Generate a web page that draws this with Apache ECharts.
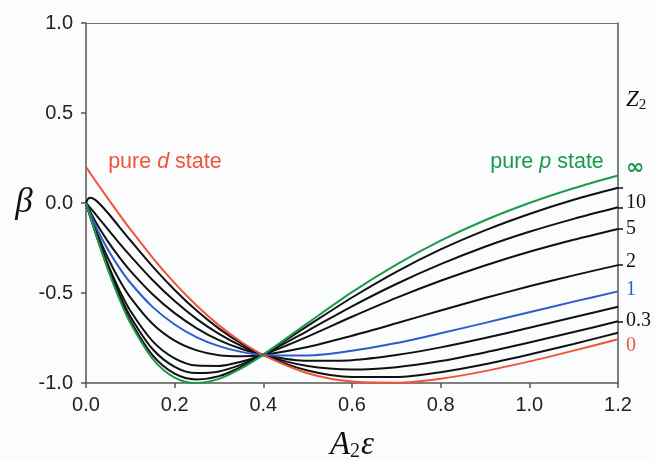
<!DOCTYPE html>
<html><head><meta charset="utf-8">
<script src="https://cdn.jsdelivr.net/npm/echarts@6/dist/echarts.min.js"></script>
<style>html,body{margin:0;padding:0;background:#fbfcfd}#c{width:655px;height:462px}</style>
</head><body><div id="c"></div>
<script>
// x values (A2 epsilon)
const xs = [0, 0.005, 0.01, 0.02, 0.03, 0.05, 0.075, 0.1, 0.15, 0.2, 0.25, 0.3, 0.35, 0.4, 0.5, 0.6, 0.7, 0.8, 0.9, 1.0, 1.1, 1.2];
// beta values
const pState = [0, -0.040, -0.079, -0.156, -0.231, -0.373, -0.531, -0.667, -0.864, -0.970, -1.000, -0.977, -0.919, -0.842, -0.667, -0.495, -0.342, -0.209, -0.096, 0.000, 0.082, 0.153];
const dState = [0.200, 0.182, 0.164, 0.128, 0.093, 0.023, -0.063, -0.146, -0.303, -0.445, -0.571, -0.680, -0.771, -0.845, -0.946, -0.992, -0.998, -0.976, -0.934, -0.880, -0.820, -0.757];
const z30 = [0, -0.040, -0.079, -0.155, -0.229, -0.367, -0.522, -0.654, -0.845, -0.948, -0.980, -0.962, -0.911, -0.842, -0.683, -0.525, -0.382, -0.258, -0.152, -0.061, 0.018, 0.085];
const z10 = [0, -0.039, -0.077, -0.152, -0.224, -0.358, -0.506, -0.630, -0.811, -0.910, -0.945, -0.936, -0.898, -0.843, -0.710, -0.574, -0.450, -0.340, -0.243, -0.160, -0.088, -0.024];
const z5 = [0, -0.038, -0.075, -0.148, -0.216, -0.344, -0.483, -0.599, -0.767, -0.863, -0.903, -0.905, -0.882, -0.843, -0.742, -0.632, -0.527, -0.432, -0.347, -0.271, -0.204, -0.144];
const z2 = [0, -0.036, -0.070, -0.135, -0.197, -0.308, -0.426, -0.524, -0.671, -0.765, -0.819, -0.846, -0.852, -0.844, -0.800, -0.737, -0.668, -0.597, -0.528, -0.463, -0.402, -0.345];
const z1 = [0, -0.031, -0.061, -0.117, -0.169, -0.261, -0.359, -0.443, -0.577, -0.675, -0.746, -0.795, -0.827, -0.844, -0.847, -0.821, -0.778, -0.724, -0.666, -0.607, -0.548, -0.491];
const z06 = [0, -0.026, -0.050, -0.097, -0.139, -0.216, -0.301, -0.377, -0.507, -0.612, -0.696, -0.762, -0.810, -0.844, -0.877, -0.873, -0.845, -0.802, -0.750, -0.693, -0.635, -0.576];
const z03 = [0, -0.014, -0.028, -0.058, -0.088, -0.148, -0.223, -0.294, -0.428, -0.545, -0.645, -0.727, -0.794, -0.845, -0.906, -0.925, -0.912, -0.878, -0.830, -0.775, -0.717, -0.657];
const z01 = [0, 0.024, 0.029, 0.019, -0.003, -0.057, -0.132, -0.207, -0.352, -0.483, -0.599, -0.698, -0.780, -0.845, -0.931, -0.967, -0.967, -0.940, -0.896, -0.842, -0.783, -0.721];
// tick labels
const xTicks = ['0.0', '0.2', '0.4', '0.6', '0.8', '1.0', '1.2'];
const zLabels = ['Z2', '∞', '10', '5', '2', '1', '0.3', '0'];
const zLabelAt = [0.572, 0.193, 0.004, -0.141, -0.326, -0.483, -0.654, -0.794];
const zTickAt = [0.085, -0.024, -0.144, -0.345, -0.657];

const RED = '#f0553a', GREEN = '#1b9a4c', BLUE = '#2f5cc8', BLACK = '#111111';
const zColors = ['#111', GREEN, '#111', '#111', '#111', BLUE, '#111', RED];

const chart = echarts.init(document.getElementById('c'), null, {renderer: 'canvas'});
const mk = arr => xs.map((x, i) => [x, arr[i]]);
const line = (name, arr, color, z) => ({
  name, type: 'line', data: mk(arr), showSymbol: false, symbol: 'none', smooth: 0.3,
  lineStyle: {color, width: 2}, z, silent: true, animation: false, clip: false
});
const nearest = v => { let b = 0; zLabelAt.forEach((p, i) => { if (Math.abs(p - v) < Math.abs(zLabelAt[b] - v)) b = i; }); return b; };

chart.setOption({
  backgroundColor: '#fbfcfd',
  animation: false,
  grid: {left: 86, top: 23, right: 37, bottom: 79, containLabel: false, outerBoundsMode: 'none'},
  xAxis: [{
    type: 'value', min: 0, max: 1.2, interval: 0.2, position: 'bottom',
    axisLine: {show: true, onZero: false, lineStyle: {color: '#555', width: 1.5}},
    axisTick: {show: true, inside: false, length: 5, lineStyle: {color: '#555', width: 1.5}},
    axisLabel: {formatter: (v) => xTicks[Math.round(v / 0.2)], fontSize: 20, color: '#222', fontFamily: 'Liberation Sans', margin: 12},
    splitLine: {show: false},
    name: '{a|A}{s|2}{a|ε}', nameLocation: 'middle', nameGap: 44,
    nameTextStyle: {rich: {
      a: {fontFamily: 'Liberation Serif', fontStyle: 'italic', fontSize: 33, color: '#111', lineHeight: 36},
      s: {fontFamily: 'Liberation Serif', fontSize: 20, color: '#111', lineHeight: 36, padding: [14, 1, 0, 0]}
    }}
  }, {
    type: 'value', min: 0, max: 1.2, position: 'top',
    axisLine: {show: true, onZero: false, lineStyle: {color: '#7a6f6f', width: 1}},
    axisTick: {show: false}, axisLabel: {show: false}, splitLine: {show: false}
  }],
  yAxis: [{
    type: 'value', min: -1, max: 1, interval: 0.5, position: 'left',
    axisLine: {show: true, onZero: false, lineStyle: {color: '#555', width: 1.5}},
    axisTick: {show: true, inside: false, length: 5, lineStyle: {color: '#555', width: 1.5}},
    axisLabel: {formatter: v => v.toFixed(1), fontSize: 20, color: '#222', fontFamily: 'Liberation Sans', margin: 13},
    splitLine: {show: false},
    name: 'β', nameLocation: 'middle', nameRotate: 0, nameGap: 52,
    nameTextStyle: {fontFamily: 'Liberation Serif', fontStyle: 'italic', fontSize: 35, color: '#111'}
  }, {
    type: 'value', min: -1, max: 1, position: 'right',
    axisLine: {show: true, onZero: false, lineStyle: {color: '#555', width: 1.5}},
    axisTick: {show: true, inside: false, length: 5, customValues: zTickAt, lineStyle: {color: '#111', width: 1.5}},
    axisLabel: {
      customValues: zLabelAt, margin: 8, fontFamily: 'Liberation Serif', fontSize: 20,
      formatter: v => { const i = nearest(v); return i === 0 ? '{z|Z}{sub|2}' : (i === 1 ? '{inf|∞}' : zLabels[i]); },
      color: v => zColors[nearest(v)],
      rich: {
        z: {fontFamily: 'Liberation Serif', fontStyle: 'italic', fontSize: 23, color: '#111', lineHeight: 26},
        sub: {fontFamily: 'Liberation Serif', fontSize: 15, color: '#111', lineHeight: 26, padding: [10, 0, 0, 0]},
        inf: {fontFamily: 'DejaVu Sans', fontWeight: 'bold', fontSize: 22, color: GREEN}
      }
    },
    splitLine: {show: false}
  }],
  series: [
    line('Z=0.1', z01, BLACK, 2),
    line('Z=0.3', z03, BLACK, 2),
    line('Z=0.6', z06, BLACK, 2),
    line('Z=2', z2, BLACK, 2),
    line('Z=5', z5, BLACK, 2),
    line('Z=10', z10, BLACK, 2),
    line('Z=30', z30, BLACK, 2),
    line('Z=1', z1, BLUE, 3),
    line('pure d', dState, RED, 4),
    line('pure p', pState, GREEN, 4)
  ]
});

const pd = chart.convertToPixel({gridIndex: 0}, [0.05, 0.228]);
const pp = chart.convertToPixel({gridIndex: 0}, [1.168, 0.228]);
const richFor = (c) => ({
  n: {fontFamily: 'Liberation Sans', fontSize: 21.5, fill: c},
  i: {fontFamily: 'Liberation Sans', fontStyle: 'italic', fontSize: 21.5, fill: c}
});
chart.setOption({
  graphic: [
    {type: 'text', x: pd[0], y: pd[1], style: {text: '{n|pure }{i|d}{n| state}', rich: richFor(RED), fill: RED, align: 'left', verticalAlign: 'middle', fontSize: 21.5, fontFamily: 'Liberation Sans'}},
    {type: 'text', x: pp[0], y: pp[1], style: {text: '{n|pure }{i|p}{n| state}', rich: richFor(GREEN), fill: GREEN, align: 'right', verticalAlign: 'middle', fontSize: 21.5, fontFamily: 'Liberation Sans'}}
  ]
});
</script>
</body></html>
